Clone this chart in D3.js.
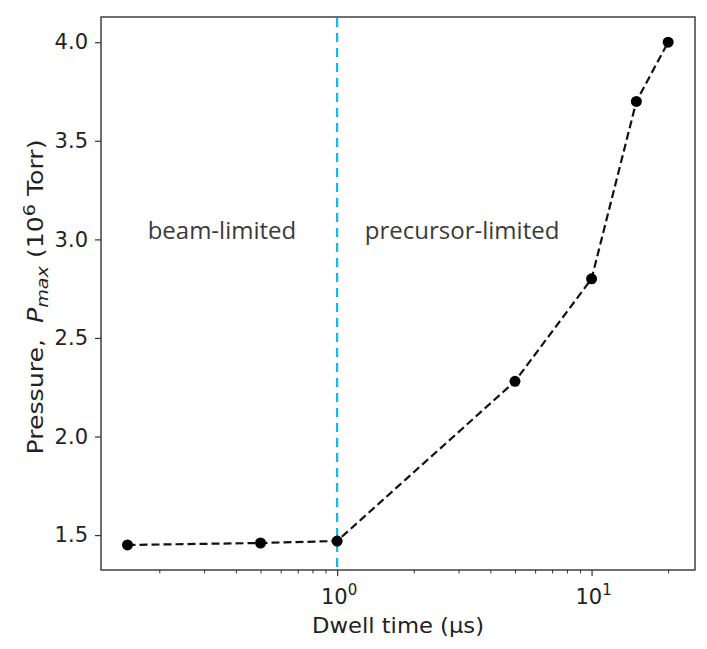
<!DOCTYPE html>
<html>
<head>
<meta charset="utf-8">
<script src="https://cdn.jsdelivr.net/npm/d3@7"></script>
<style>
  body { margin: 0; background: #fff; }
  svg { display: block; }
</style>
</head>
<body>
<svg id="chart"></svg>
<script>
// data
const dwellTimes = [0.15, 0.5, 1, 5, 10, 15, 20];
const pressures = [1.45, 1.46, 1.47, 2.28, 2.80, 3.70, 4.00];
const yTicks = [1.5, 2.0, 2.5, 3.0, 3.5, 4.0];
const xMajorTicks = [1, 10];
const xMinorTicks = [0.2, 0.3, 0.4, 0.5, 0.6, 0.7, 0.8, 0.9, 2, 3, 4, 5, 6, 7, 8, 9, 20];
const boundaryTime = 1;
const regionLabels = [
    { text: "beam-limited", x: 0.18, y: 3.0 },
    { text: "precursor-limited", x: 1.285, y: 3.0 }
];

const width = 707, height = 649;
const margin = { left: 101, right: 12, top: 17, bottom: 79 };

const svg = d3.select("#chart")
    .attr("width", width)
    .attr("height", height);

const x = d3.scaleLog()
    .domain([0.118, 25.5])
    .range([margin.left, width - margin.right]);

const y = d3.scaleLinear()
    .domain([1.323, 4.128])
    .range([height - margin.bottom, margin.top]);

const tickFont = "'DejaVu Sans', sans-serif";

// y axis
const yAxis = svg.append("g")
    .attr("transform", `translate(${margin.left},0)`)
    .call(d3.axisLeft(y).tickValues(yTicks).tickFormat(d3.format(".1f")).tickSize(6).tickPadding(7));
yAxis.select(".domain").remove();
yAxis.selectAll("text").attr("font-size", 21).attr("font-family", tickFont).attr("fill", "#222");
yAxis.selectAll("line").attr("stroke", "#333").attr("stroke-width", 1.2);

// x axis major ticks
const xAxis = svg.append("g")
    .attr("transform", `translate(0,${height - margin.bottom})`)
    .call(d3.axisBottom(x).tickValues(xMajorTicks).tickFormat("").tickSize(6));
xAxis.select(".domain").remove();
xAxis.selectAll("line").attr("stroke", "#333").attr("stroke-width", 1.2);

// minor ticks
const xMinor = svg.append("g")
    .attr("transform", `translate(0,${height - margin.bottom})`)
    .call(d3.axisBottom(x).tickValues(xMinorTicks).tickFormat("").tickSize(3.5));
xMinor.select(".domain").remove();
xMinor.selectAll("line").attr("stroke", "#333").attr("stroke-width", 1);

// x tick labels as 10^n
xMajorTicks.forEach(v => {
    const t = svg.append("text")
        .attr("x", x(v) + 2)
        .attr("y", height - margin.bottom + 34)
        .attr("text-anchor", "middle")
        .attr("font-family", tickFont)
        .attr("font-size", 21)
        .attr("fill", "#222");
    t.append("tspan").text("10");
    t.append("tspan").attr("dy", -9).attr("font-size", 15).text(Math.round(Math.log10(v)));
});

// frame
svg.append("rect")
    .attr("x", margin.left)
    .attr("y", margin.top)
    .attr("width", width - margin.left - margin.right)
    .attr("height", height - margin.top - margin.bottom)
    .attr("fill", "none")
    .attr("stroke", "#333")
    .attr("stroke-width", 1.4);

// boundary line
svg.append("line")
    .attr("x1", x(boundaryTime))
    .attr("x2", x(boundaryTime))
    .attr("y1", margin.top + 1)
    .attr("y2", height - margin.bottom)
    .attr("stroke", "#13b5ee")
    .attr("stroke-width", 2.2)
    .attr("stroke-dasharray", "9,6");

// data line
const pts = dwellTimes.map((d, i) => [d, pressures[i]]);
svg.append("path")
    .datum(pts)
    .attr("d", d3.line().x(d => x(d[0])).y(d => y(d[1])))
    .attr("fill", "none")
    .attr("stroke", "#111")
    .attr("stroke-width", 2.2)
    .attr("stroke-dasharray", "8,4");

svg.selectAll(".pt")
    .data(pts)
    .enter()
    .append("circle")
    .attr("class", "pt")
    .attr("cx", d => x(d[0]))
    .attr("cy", d => y(d[1]))
    .attr("r", 5.5)
    .attr("fill", "#000");

// region labels
svg.selectAll(".region")
    .data(regionLabels)
    .enter()
    .append("text")
    .attr("x", d => x(d.x))
    .attr("y", d => y(d.y))
    .attr("font-family", "'Open Sans', sans-serif")
    .attr("font-size", 24)
    .attr("fill", "#3a3a3a")
    .text(d => d.text);

// axis labels
svg.append("text")
    .attr("x", (margin.left + width - margin.right) / 2)
    .attr("y", 633)
    .attr("text-anchor", "middle")
    .attr("font-family", tickFont)
    .attr("font-size", 22)
    .attr("fill", "#222")
    .attr("textLength", 172)
    .attr("lengthAdjust", "spacingAndGlyphs")
    .text("Dwell time (\u00b5s)");

const yl = svg.append("text")
    .attr("transform", `translate(43,297) rotate(-90)`)
    .attr("text-anchor", "middle")
    .attr("font-family", tickFont)
    .attr("font-size", 21)
    .attr("fill", "#222")
    .attr("textLength", 315)
    .attr("lengthAdjust", "spacingAndGlyphs");
yl.append("tspan").text("Pressure,\u00a0\u00a0");
yl.append("tspan").attr("font-style", "italic").text("P");
yl.append("tspan").attr("font-style", "italic").attr("font-size", 16).attr("dy", 5).text("max");
yl.append("tspan").attr("dy", -5).text(" (10");
yl.append("tspan").attr("font-size", 16).attr("dy", -8).text("6");
yl.append("tspan").attr("dy", 8).text(" Torr)");
</script>
</body>
</html>
